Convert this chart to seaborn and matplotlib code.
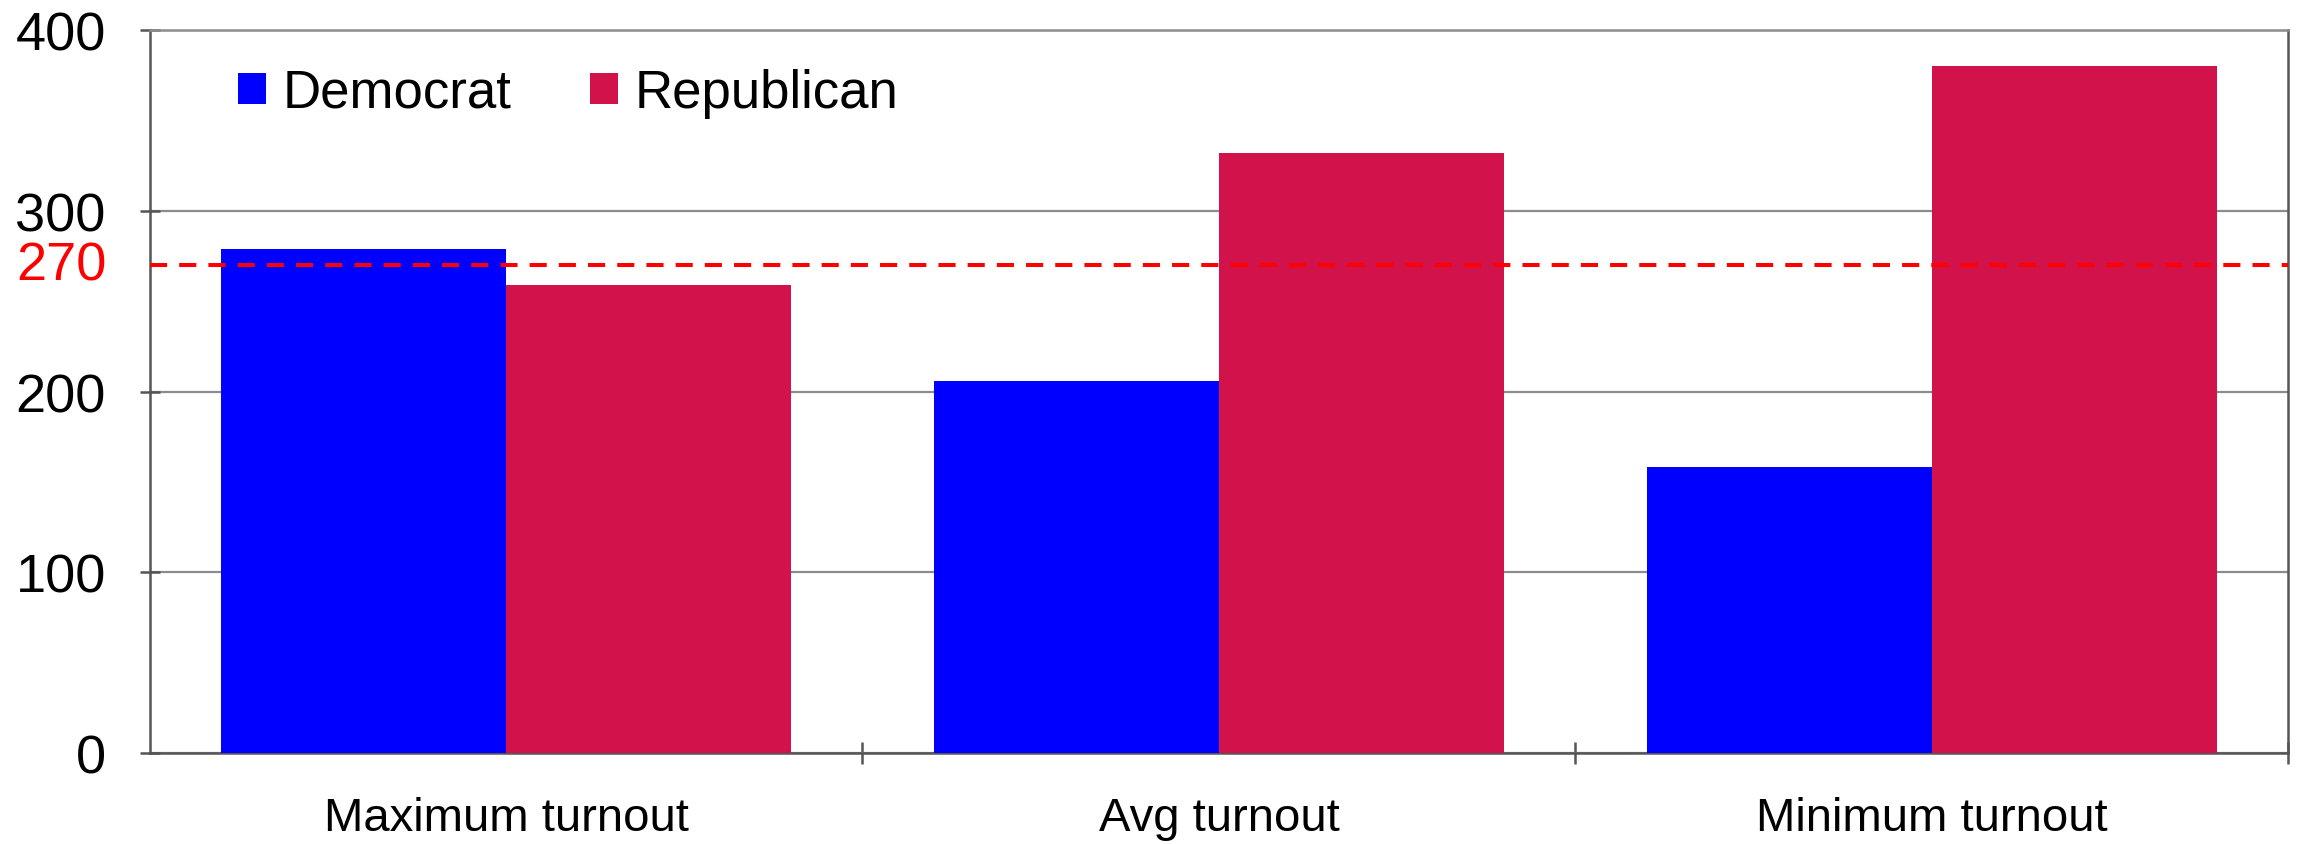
import matplotlib
matplotlib.use("Agg")
import matplotlib.pyplot as plt
import seaborn as sns
import pandas as pd

# electoral votes per scenario
categories = ["Maximum turnout", "Avg turnout", "Minimum turnout"]
democrat = [279, 206, 158]
republican = [259, 332, 380]
threshold = 270

colors = {"Democrat": "#0000FF", "Republican": "#D2124A"}

df = pd.DataFrame({
    "scenario": categories * 2,
    "party": ["Democrat"] * 3 + ["Republican"] * 3,
    "votes": democrat + republican,
})

sns.set_style("white")
plt.rcParams["font.family"] = ["Liberation Sans", "DejaVu Sans"]
plt.rcParams["text.color"] = "black"
plt.rcParams["xtick.color"] = "black"
plt.rcParams["ytick.color"] = "black"

fig, ax = plt.subplots(figsize=(23, 8.45), dpi=100)
fig.subplots_adjust(left=0.065, right=0.995, top=0.963, bottom=0.108)

sns.barplot(data=df, x="scenario", y="votes", hue="party", palette=colors,
            width=0.8, saturation=1, linewidth=0, ax=ax, zorder=3)

ax.set_ylim(0, 400)
ax.set_xlim(-0.5, 2.5)
ax.set_yticks([0, 100, 200, 300, 400])
ax.yaxis.grid(True, color="#8C8C8C", linewidth=1.6, zorder=0)
ax.set_axisbelow(True)

# 270 votes needed to win
ax.axhline(threshold, color="#FF0000", linewidth=2.9, dashes=(4.25, 3.0), zorder=4)
ax.annotate(str(threshold), xy=(0, threshold), xycoords=ax.get_yaxis_transform(),
            xytext=(-31, 0), textcoords="offset points", color="#FF0000",
            fontsize=39, ha="right", va="center")

for side in ["left", "right", "top", "bottom"]:
    ax.spines[side].set_visible(True)
    ax.spines[side].set_color("#555555")
    ax.spines[side].set_linewidth(1.8)
ax.spines["top"].set_color("#8C8C8C")

ax.tick_params(axis="y", direction="inout", length=15, width=1.8, color="#555555",
               labelsize=39, labelcolor="black", pad=24, left=True)
ax.set_xticks([0.5, 1.5, 2.5], minor=True)
ax.tick_params(axis="x", which="minor", direction="inout", length=16, width=1.8,
               color="#555555", bottom=True)
ax.tick_params(axis="x", which="major", length=0, labelsize=34, labelcolor="black", pad=31)

ax.set_xlabel("")
ax.set_ylabel("")

handles, labels = ax.get_legend_handles_labels()
ax.legend(handles, labels, loc="upper left", bbox_to_anchor=(0.0416, 0.948), ncol=2,
          frameon=False, fontsize=38, handlelength=0.53, handleheight=0.53,
          handletextpad=0.3, columnspacing=1.5, borderaxespad=0, borderpad=0)

fig.savefig("out.png", dpi=100)
